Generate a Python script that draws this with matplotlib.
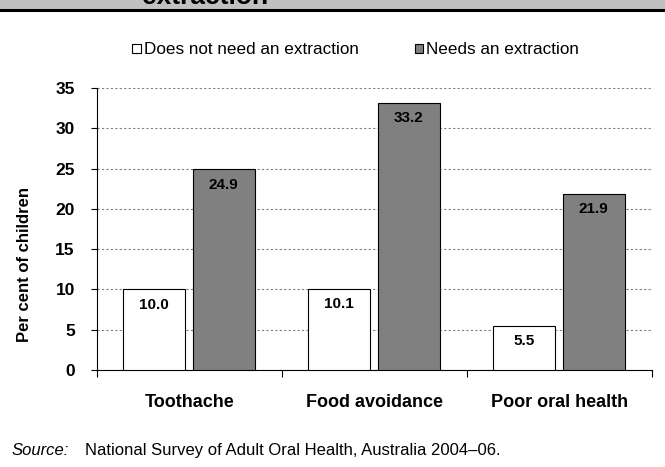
import matplotlib.pyplot as plt
import matplotlib.patches as mpatches
import numpy as np

categories = ['Toothache', 'Food avoidance', 'Poor oral health']
no_extraction = [10.0, 10.1, 5.5]
needs_extraction = [24.9, 33.2, 21.9]
series_names = ['Does not need an extraction', 'Needs an extraction']

plt.rcParams['font.family'] = ['Liberation Sans', 'DejaVu Sans']

fig = plt.figure(figsize=(6.65, 4.67), dpi=100)
W, H = 665, 467

# header band with clipped title
fig.patches.append(mpatches.Rectangle((0, 1 - 8.5 / H), 1, 8.5 / H, transform=fig.transFigure,
                                      facecolor='#c0c0c0', edgecolor='none', zorder=0))
fig.add_artist(plt.Line2D([0, 1], [1 - 9.5 / H, 1 - 9.5 / H], transform=fig.transFigure,
                          color='black', linewidth=2.2))
fig.text(142 / W, 1 - 4.5 / H, 'extraction', fontsize=19, fontweight='bold', va='baseline', ha='left')

ax = fig.add_axes([97 / W, 1 - 370 / H, (652 - 97) / W, (370 - 88) / H])

x = np.arange(len(categories))
w = 0.335
b1 = ax.bar(x - 0.19, no_extraction, w, color='white', edgecolor='black', linewidth=0.8, zorder=3)
b2 = ax.bar(x + 0.185, needs_extraction, w, color='#808080', edgecolor='black', linewidth=0.8, zorder=3)

for bars, vals in ((b1, no_extraction), (b2, needs_extraction)):
    for r, v in zip(bars, vals):
        ax.annotate(f'{v:.1f}', (r.get_x() + r.get_width() / 2, v), xytext=(0, -11),
                    textcoords='offset points', ha='center', va='center',
                    fontsize=11, fontweight='bold', zorder=4)

ax.set_xlim(-0.5, 2.5)
ax.set_ylim(0, 35)
ax.set_yticks(range(0, 36, 5))
ax.set_yticklabels([str(t) for t in range(0, 36, 5)], fontsize=12.5, fontweight='bold')
ax.yaxis.grid(True, linestyle=(0, (2, 2)), color='#808080', linewidth=0.8, zorder=0)
ax.set_axisbelow(True)

ax.set_xticks([-0.5, 0.5, 1.5, 2.5])
ax.set_xticklabels([])
ax.set_xticks(x, minor=True)
ax.set_xticklabels(categories, minor=True, fontsize=13, fontweight='bold')
ax.tick_params(axis='x', which='minor', length=0, pad=17)
ax.tick_params(axis='x', which='major', length=5, direction='out', width=0.8)
ax.tick_params(axis='y', length=4, width=0.8, pad=12)

for s in ['top', 'right']:
    ax.spines[s].set_visible(False)
ax.spines['left'].set_linewidth(0.8)
ax.spines['bottom'].set_linewidth(0.8)

ax.set_ylabel('Per cent of children', fontsize=12, fontweight='bold', va='center')
ax.yaxis.set_label_coords(25 / W, 1 - 264 / H, transform=fig.transFigure)

handles = [mpatches.Patch(facecolor='white', edgecolor='black', linewidth=0.8),
           mpatches.Patch(facecolor='#808080', edgecolor='black', linewidth=0.8)]
fig.legend(handles, series_names, loc='center left', bbox_to_anchor=(132 / W, 1 - 50 / H), ncol=2,
           frameon=False, fontsize=12.3, handlelength=0.5, handleheight=0.5,
           handletextpad=0.18, columnspacing=3.3, borderpad=0, borderaxespad=0)

fig.text(12 / W, 1 - 455 / H, 'Source:', fontsize=12, style='italic', va='baseline')
fig.text(85 / W, 1 - 455 / H, 'National Survey of Adult Oral Health, Australia 2004\u201306.',
         fontsize=12, va='baseline')

fig.savefig('out.png', dpi=100)
